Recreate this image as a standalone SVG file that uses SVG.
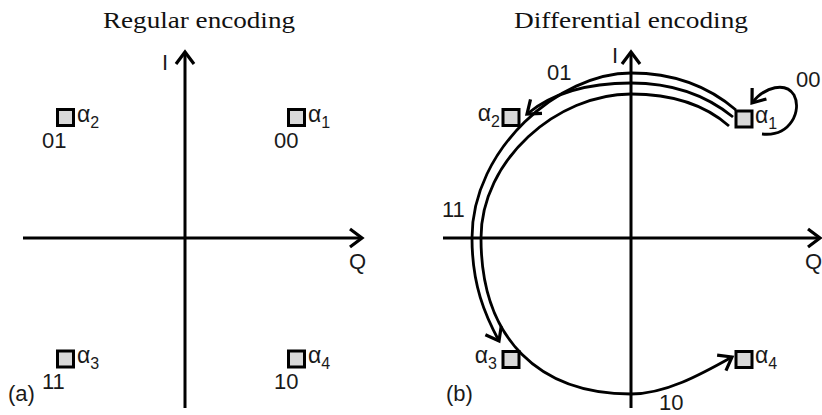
<svg xmlns="http://www.w3.org/2000/svg" width="822" height="415" viewBox="0 0 822 415">
<style>
.axis{stroke:#000;stroke-width:3;fill:none}
.conn{stroke:#000;stroke-width:2.8;fill:none}
.pt{fill:#d9d9d9;stroke:#000;stroke-width:3}
.t{font-family:"Liberation Sans",Arial,sans-serif;font-size:22px;fill:#1a1a1a}
.a{font-family:"Liberation Sans",Arial,sans-serif;font-size:23px;fill:#1a1a1a}
.s{font-size:16px}
.title{font-family:"Liberation Serif","Times New Roman",serif;font-size:24px;fill:#111}
</style>
<defs>
<marker id="arr" markerUnits="userSpaceOnUse" markerWidth="30" markerHeight="30" refX="0" refY="0" orient="auto" viewBox="-15 -15 30 30" overflow="visible">
<path d="M-12,-9 L0,0 L-12,9" fill="none" stroke="#000" stroke-width="3.2"/>
</marker>
</defs>

<g id="titles">
<text class="title" x="103" y="28" textLength="192" lengthAdjust="spacingAndGlyphs">Regular encoding</text>
<text class="title" x="514" y="28" textLength="234" lengthAdjust="spacingAndGlyphs">Differential encoding</text>
</g>

<g id="axes-a">
<line class="axis" x1="185" y1="408" x2="185" y2="52" marker-end="url(#arr)"/>
<line class="axis" x1="23" y1="238" x2="362" y2="238" marker-end="url(#arr)"/>
<text class="t" x="162" y="70">I</text>
<text class="t" x="349" y="269">Q</text>
<text class="t" x="8" y="401">(a)</text>
</g>

<g id="axes-b">
<line class="axis" x1="631" y1="408" x2="631" y2="52" marker-end="url(#arr)"/>
<line class="axis" x1="443" y1="238" x2="820" y2="238" marker-end="url(#arr)"/>
<text class="t" x="612" y="63">I</text>
<text class="t" x="805" y="269">Q</text>
<text class="t" x="446" y="401">(b)</text>
</g>

<g id="connectors">
<path id="c11" class="conn" d="M736,110 C708,86 672,73 631,73 C560,73 472,148 472,238 C472,285 485,315 499,341" marker-end="url(#arr)"/>
<path id="c01" class="conn" d="M733,117 C706,95 672,83 631,83 C585,83 550,95 527,114" marker-end="url(#arr)"/>
<path id="c10" class="conn" d="M729,126 C703,103 668,94 631,94 C557,94 481,160 481,238 C481,340 540,394 631,394 C665,394 700,375 732,357" marker-end="url(#arr)"/>
<path id="c00" class="conn" d="M762,134 C791,137 802,110 794,95 C786,82 765,86 752,103" marker-end="url(#arr)"/>
<text class="t" x="547" y="80">01</text>
<text class="t" x="796" y="87">00</text>
<text class="t" x="442" y="217">11</text>
<text class="t" x="659" y="410">10</text>
</g>

<g id="a-alpha1">
<rect class="pt" x="288.5" y="109.5" width="16" height="16"/>
<text class="a" x="308" y="122">α<tspan class="s" dy="6">1</tspan></text>
<text class="t" x="274" y="148">00</text>
</g>
<g id="a-alpha2">
<rect class="pt" x="57.5" y="109.5" width="16" height="16"/>
<text class="a" x="77" y="122">α<tspan class="s" dy="6">2</tspan></text>
<text class="t" x="42" y="148">01</text>
</g>
<g id="a-alpha3">
<rect class="pt" x="57.5" y="351" width="16" height="16"/>
<text class="a" x="77" y="363">α<tspan class="s" dy="6">3</tspan></text>
<text class="t" x="42" y="389">11</text>
</g>
<g id="a-alpha4">
<rect class="pt" x="288.5" y="351" width="16" height="16"/>
<text class="a" x="308" y="363">α<tspan class="s" dy="6">4</tspan></text>
<text class="t" x="274" y="389">10</text>
</g>

<g id="b-alpha1">
<rect class="pt" x="736" y="111" width="16" height="16"/>
<text class="a" x="755" y="123">α<tspan class="s" dy="6">1</tspan></text>
</g>
<g id="b-alpha2">
<rect class="pt" x="503" y="109.5" width="16" height="16"/>
<text class="a" x="500" y="121" text-anchor="end">α<tspan class="s" dy="6">2</tspan></text>
</g>
<g id="b-alpha3">
<rect class="pt" x="503" y="351.5" width="16" height="16"/>
<text class="a" x="497" y="363" text-anchor="end">α<tspan class="s" dy="6">3</tspan></text>
</g>
<g id="b-alpha4">
<rect class="pt" x="736" y="351.5" width="16" height="16"/>
<text class="a" x="755" y="363">α<tspan class="s" dy="6">4</tspan></text>
</g>
</svg>
